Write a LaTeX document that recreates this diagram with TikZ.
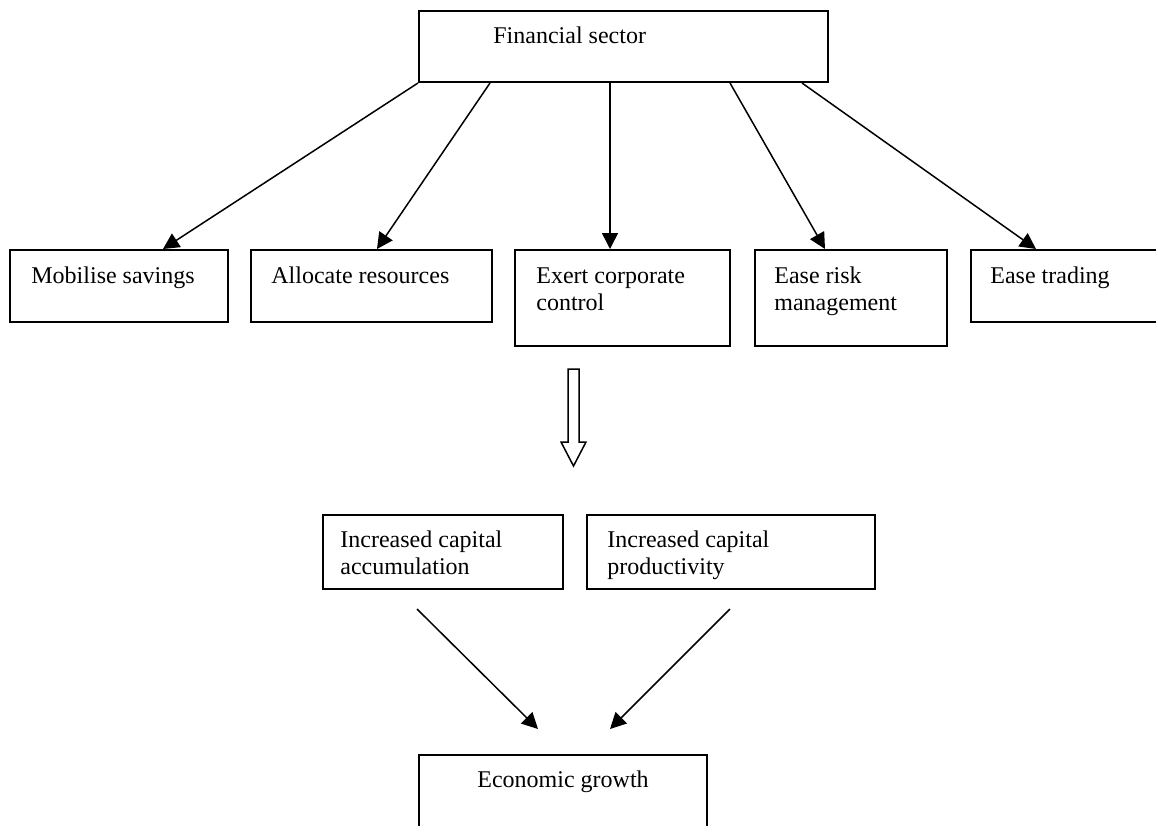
\documentclass[tikz,border=0pt]{standalone}
\usepackage{fontspec}
\setmainfont{Liberation Serif}
\usetikzlibrary{arrows.meta,calc,positioning}

\begin{document}
\begin{tikzpicture}[x=0.5pt, y=-0.5pt,
  every node/.style={font=\fontsize{12}{13.5}\selectfont},
  box/.style={draw, line width=1pt, anchor=north west, inner sep=0pt},
  lbl/.style={anchor=north west, inner sep=0pt, align=left},
  arr/.style={-{Triangle[length=8pt, width=8pt]}, line width=0.75pt}]
  \useasboundingbox (0,0) rectangle (1156,825);
  \clip (0,0) rectangle (1156,825);
  % financial sector
  \node[box, minimum width=204.5pt, minimum height=35.5pt] (fin) at (418,10) {};
  \node[lbl, below right=7pt and 37.5pt of fin.north west] (finT) {\strut Financial sector};
  % functions row
  \node[box, minimum width=109pt, minimum height=36pt] (mob) at (9,249) {};
  \node[lbl, below right=7.5pt and 11pt of mob.north west] (mobT) {\strut Mobilise savings};
  \node[box, minimum width=120.5pt, minimum height=36pt] (alloc) at (250,249) {};
  \node[lbl, below right=7.5pt and 10.5pt of alloc.north west] (allocT) {\strut Allocate resources};
  \node[box, minimum width=107.5pt, minimum height=48pt] (exert) at (514,249) {};
  \node[lbl, below right=7.5pt and 11pt of exert.north west] (exertT) {\strut Exert corporate\\control};
  \node[box, minimum width=96pt, minimum height=48pt] (risk) at (754,249) {};
  \node[lbl, below right=7.5pt and 10pt of risk.north west] (riskT) {\strut Ease risk\\management};
  \node[box, minimum width=100pt, minimum height=36pt] (trade) at (970,249) {};
  \node[lbl, below right=7.5pt and 10pt of trade.north west] (tradeT) {\strut Ease trading};
  % arrows to the functions
  \draw[arr] (fin.south west) -- ([xshift=77pt]mob.north west);
  \draw[arr] ([xshift=36pt]fin.south west) -- ([xshift=63.5pt]alloc.north west);
  \draw[arr] ([xshift=96pt]fin.south west) -- ([xshift=48pt]exert.north west);
  \draw[arr] ([xshift=156pt]fin.south west) -- ([xshift=35.5pt]risk.north west);
  \draw[arr] ([xshift=192pt]fin.south west) -- ([xshift=33pt]trade.north west);
  % hollow arrow
  \draw[line width=0.75pt] (568,369) -- (579,369) -- (579,442) -- (586,442) -- (573.5,466)
    -- (561,442) -- (568,442) -- cycle;
  % channels
  \node[box, minimum width=120pt, minimum height=37pt] (acc) at (322,514) {};
  \node[lbl, below right=7pt and 9pt of acc.north west] (accT) {\strut Increased capital\\accumulation};
  \node[box, minimum width=144pt, minimum height=37pt] (prod) at (586,514) {};
  \node[lbl, below right=7pt and 10.5pt of prod.north west] (prodT) {\strut Increased capital\\productivity};
  % growth
  \node[box, minimum width=144pt, minimum height=45pt] (growth) at (418,754) {};
  \node[lbl, below=7pt of growth.north] (growthT) {\strut Economic growth};
  \coordinate (accOut) at (417,609);
  \coordinate (prodOut) at (730,609);
  \coordinate (growthL) at (538,729);
  \coordinate (growthR) at (610,729);
  \draw[arr] (accOut) -- (growthL);
  \draw[arr] (prodOut) -- (growthR);
\end{tikzpicture}
\end{document}
